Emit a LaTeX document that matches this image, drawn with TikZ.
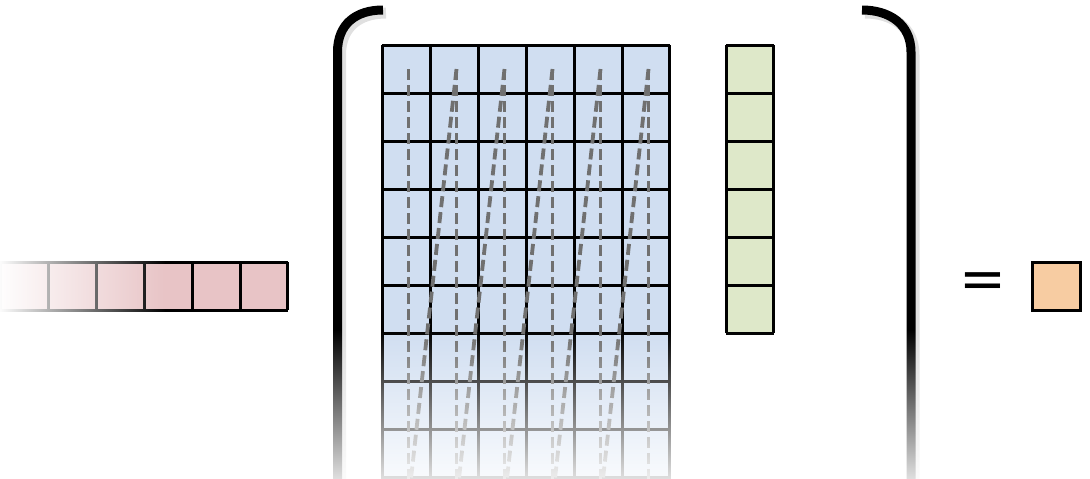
\documentclass[tikz,border=0pt]{standalone}
\usepackage{fontspec}
\setmainfont{Liberation Sans}
\usetikzlibrary{fadings}
\definecolor{cellblue}{RGB}{208,222,241}
\definecolor{cellpink}{RGB}{232,196,198}
\definecolor{cellgreen}{RGB}{222,232,201}
\definecolor{cellorange}{RGB}{247,204,162}
\definecolor{dashgray}{RGB}{112,112,112}
\tikzfading[name=fadebottom, top color=transparent!100, bottom color=transparent!0]
\tikzfading[name=fadeleft, left color=transparent!0, right color=transparent!100]
\begin{document}
\begin{tikzpicture}[x=1pt,y=-1pt,
  gridline/.style={draw=black, line width=3pt},
  dashline/.style={draw=dashgray, line width=3.8pt, dash pattern=on 11pt off 5pt},
  bracketline/.style={draw=black, line width=9pt},
  bracketshadow/.style={draw=black, opacity=0.12, line width=11pt},
  eqsign/.style={inner sep=0pt, font=\fontsize{70}{70}\selectfont\bfseries}]
\fill[white] (0,0) rectangle (1090,479);
\clip (0,0) rectangle (1090,479);
\useasboundingbox (0,0) rectangle (1090,479);

% matrix
\fill[cellblue] (382,45) rectangle (670,525);
\draw[gridline, shift={(382,45)}] (0,0) grid[step=48pt] (288,480);
\foreach \k in {0,...,5}
  \draw[dashline] (408.5+48*\k,69) -- (408.5+48*\k,501);
\foreach \k in {1,...,5}
  \draw[dashline] (408.5+48*\k,69) -- (408.5+48*\k-48,501);

% green vector
\fill[cellgreen] (726,45) rectangle (774,333);
\draw[gridline, shift={(726,45)}] (0,0) grid[step=48pt] (48,288);

% pink vector
\fill[cellpink] (0,262) rectangle (288,310);
\draw[gridline, shift={(0,262)}] (0,0) grid[step=48pt] (288,48);
\fill[white, path fading=fadeleft] (-2,250) rectangle (165,322);

% orange result
\node[draw=black, line width=3pt, fill=cellorange, minimum size=48pt, inner sep=0pt] (res) at (1056,286) {};

% equals sign
\node[eqsign] (eq) at (982.5,284) {\scalebox{1}[0.6]{=}};

% brackets
\begin{scope}[shift={(3,3)}]
\draw[bracketshadow] (383,10) .. controls (356,10) and (337.5,24) .. (337.5,52) -- (337.5,490);
\draw[bracketshadow] (862,10) .. controls (889,10) and (911,24) .. (911,52) -- (911,490);
\end{scope}
\draw[bracketline] (383,10) .. controls (356,10) and (337.5,24) .. (337.5,52) -- (337.5,490);
\draw[bracketline] (862,10) .. controls (889,10) and (911,24) .. (911,52) -- (911,490);

% bottom fade
\fill[white, path fading=fadebottom] (-5,330) rectangle (1095,500);
\end{tikzpicture}
\end{document}
